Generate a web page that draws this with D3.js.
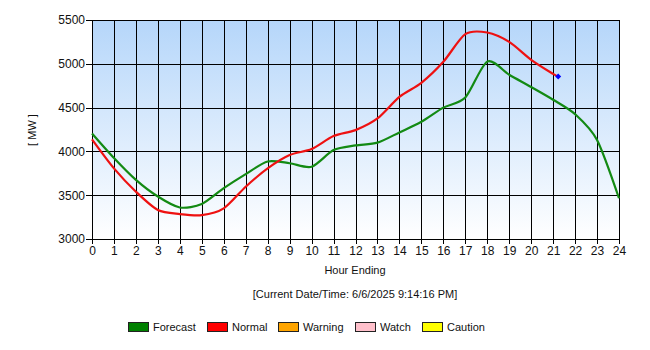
<!DOCTYPE html>
<html>
<head>
<meta charset="utf-8">
<script src="https://cdn.jsdelivr.net/npm/d3@7"></script>
<style>
  html, body { margin: 0; padding: 0; background: #fff; }
  svg { display: block; font-family: "Liberation Sans", Arial, sans-serif; }
</style>
</head>
<body>
<svg id="chart" width="650" height="350"></svg>
<script>
// Hourly load (MW): forecast for the full day, actual "Normal" load up to now
const hours = d3.range(0, 25);
const forecastMW = [4205, 3925, 3675, 3485, 3360, 3400, 3580, 3740, 3885, 3865, 3825, 4015, 4068, 4100, 4217, 4338, 4500, 4615, 5025, 4875, 4735, 4590, 4425, 4130, 3465];
const normalHours = [0, 1, 2, 3, 4, 5, 6, 7, 8, 9, 10, 11, 12, 13, 14, 15, 16, 17, 18, 19, 20, 21, 21.23];
const normalMW = [4137, 3806, 3540, 3331, 3285, 3272, 3350, 3597, 3806, 3958, 4027, 4175, 4243, 4376, 4623, 4783, 5023, 5338, 5357, 5250, 5046, 4885, 4856];
const currentPoint = { hour: 21.23, mw: 4856 };
const yTicks = [3000, 3500, 4000, 4500, 5000, 5500];
const legendItems = [
  { name: "Forecast", color: "#008000" },
  { name: "Normal", color: "#ff0000" },
  { name: "Warning", color: "#ffa500" },
  { name: "Watch", color: "#ffc0cb" },
  { name: "Caution", color: "#ffff00" }
];
const timestamp = "[Current Date/Time: 6/6/2025 9:14:16 PM]";

const svg = d3.select("#chart");
const plot = { left: 92, right: 619, top: 20, bottom: 239 };

const x = d3.scaleLinear().domain([0, 24]).range([plot.left, plot.right]);
const y = d3.scaleLinear().domain([3000, 5500]).range([plot.bottom, plot.top]);

// Plot background: light blue fading to white
const defs = svg.append("defs");
const grad = defs.append("linearGradient").attr("id", "bg").attr("x1", 0).attr("y1", 0).attr("x2", 0).attr("y2", 1);
grad.append("stop").attr("offset", "0%").attr("stop-color", "#b5d6fa");
grad.append("stop").attr("offset", "100%").attr("stop-color", "#ffffff");

svg.append("rect")
  .attr("x", plot.left).attr("y", plot.top)
  .attr("width", plot.right - plot.left).attr("height", plot.bottom - plot.top)
  .attr("fill", "url(#bg)");

// Grid lines
const grid = svg.append("g").attr("stroke", "#000").attr("stroke-width", 1.2).attr("shape-rendering", "crispEdges");
grid.selectAll("line.v").data(hours).join("line")
  .attr("x1", d => Math.round(x(d)) + 0.5).attr("x2", d => Math.round(x(d)) + 0.5)
  .attr("y1", plot.top).attr("y2", plot.bottom);
grid.selectAll("line.h").data(yTicks).join("line")
  .attr("y1", d => Math.round(y(d)) + 0.5).attr("y2", d => Math.round(y(d)) + 0.5)
  .attr("x1", plot.left).attr("x2", plot.right);

// Axes
const xAxis = d3.axisBottom(x).tickValues(hours).tickSize(5).tickPadding(2).tickFormat(d3.format("d"));
const yAxis = d3.axisLeft(y).tickValues(yTicks).tickSize(6).tickPadding(1).tickFormat(d3.format("d"));

const gx = svg.append("g").attr("transform", `translate(0,${plot.bottom})`).call(xAxis);
const gy = svg.append("g").attr("transform", `translate(${plot.left},0)`).call(yAxis);
[gx, gy].forEach(g => {
  g.select(".domain").remove();
  g.selectAll("line").attr("stroke", "#000").attr("shape-rendering", "crispEdges");
  g.selectAll("text").attr("fill", "#111").style("font-size", "12px").style("font-family", "\"Liberation Sans\", Arial, sans-serif");
});

// Lines
const line = d3.line().curve(d3.curveCardinal.tension(0.2));
svg.append("path")
  .attr("d", line(hours.map((h, i) => [x(h), y(forecastMW[i])])))
  .attr("fill", "none").attr("stroke", "#138a13").attr("stroke-width", 2.2);
svg.append("path")
  .attr("d", line(normalHours.map((h, i) => [x(h), y(normalMW[i])])))
  .attr("fill", "none").attr("stroke", "#ee1111").attr("stroke-width", 2.2);

// Current-time marker (small diamond)
svg.append("path")
  .attr("d", d3.symbol(d3.symbolSquare, 18)())
  .attr("transform", `translate(${x(currentPoint.hour)},${y(currentPoint.mw)}) rotate(45)`)
  .attr("fill", "#0000ff");

// Titles
svg.append("text").attr("transform", "translate(36,130) rotate(-90)")
  .attr("text-anchor", "middle").style("font-size", "11px").attr("fill", "#111").text("[ MW ]");
svg.append("text").attr("x", 355).attr("y", 274)
  .attr("text-anchor", "middle").style("font-size", "11px").attr("fill", "#111").text("Hour Ending");
svg.append("text").attr("x", 355).attr("y", 298)
  .attr("text-anchor", "middle").style("font-size", "11px").attr("fill", "#111").text(timestamp);

// Legend
const legendX = [128, 207, 278, 355, 422];
const lg = svg.append("g").selectAll("g").data(legendItems).join("g")
  .attr("transform", (d, i) => `translate(${legendX[i]},322)`);
lg.append("rect").attr("width", 20).attr("height", 9)
  .attr("fill", d => d.color).attr("stroke", "#222").attr("stroke-width", 1).attr("shape-rendering", "crispEdges");
lg.append("text").attr("x", 25).attr("y", 9).style("font-size", "11px").attr("fill", "#111").text(d => d.name);
</script>
</body>
</html>
